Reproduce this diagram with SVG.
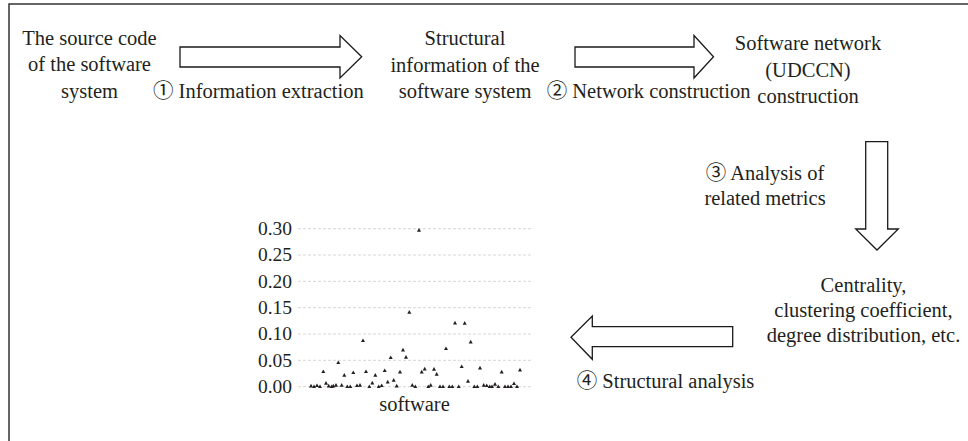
<svg xmlns="http://www.w3.org/2000/svg" xmlns:xlink="http://www.w3.org/1999/xlink" width="968" height="441" viewBox="0 0 968 441">
<style>
  .t { font-family: "Liberation Serif", "DejaVu Serif", "Noto Sans CJK SC", serif; font-size: 20.5px; fill: #231f20; }
  .c { text-anchor: middle; }
  .ax { font-family: "Liberation Serif", "DejaVu Serif", serif; font-size: 19.5px; fill: #231f20; text-anchor: end; }
  .arrow { fill: #fff; stroke: #1a1a1a; stroke-width: 1.3; stroke-linejoin: miter; }
  .grid { stroke: #d6d6d6; stroke-width: 1; stroke-dasharray: 3 2; }
  .frame { stroke: #333; stroke-width: 1.5; fill: none; }
</style>
<defs>
  <path id="tri" d="M0,-2.2 L2,1.4 L-2,1.4 Z" fill="#231f20"/>
</defs>
<rect width="968" height="441" fill="#fff"/>
<path class="frame" d="M9,441 V4 H968"/>

<g id="source-code">
  <text class="t c" x="89.5" y="44.5">The source code</text>
  <text class="t c" x="89.5" y="71">of the software</text>
  <text class="t c" x="89.5" y="97.5">system</text>
</g>

<g id="structural-info">
  <text class="t c" x="465" y="45">Structural</text>
  <text class="t c" x="465" y="71.5">information of the</text>
  <text class="t c" x="465" y="98">software system</text>
</g>

<g id="software-network">
  <text class="t c" x="808" y="50">Software network</text>
  <text class="t c" x="808" y="76.5">(UDCCN)</text>
  <text class="t c" x="808" y="103">construction</text>
</g>

<g id="metrics">
  <text class="t c" x="863.5" y="291.5">Centrality,</text>
  <text class="t c" x="863.5" y="316.5">clustering coefficient,</text>
  <text class="t c" x="863.5" y="341.5">degree distribution, etc.</text>
</g>

<g id="chart">
  <g>
    <line class="grid" x1="298" y1="228.7" x2="531" y2="228.7"/>
    <line class="grid" x1="298" y1="255" x2="531" y2="255"/>
    <line class="grid" x1="298" y1="281.3" x2="531" y2="281.3"/>
    <line class="grid" x1="298" y1="307.7" x2="531" y2="307.7"/>
    <line class="grid" x1="298" y1="334" x2="531" y2="334"/>
    <line class="grid" x1="298" y1="360.3" x2="531" y2="360.3"/>
    <line class="grid" x1="298" y1="386.7" x2="531" y2="386.7"/>
  </g>
  <g>
    <text class="ax" x="292" y="235">0.30</text>
    <text class="ax" x="292" y="261.3">0.25</text>
    <text class="ax" x="292" y="287.6">0.20</text>
    <text class="ax" x="292" y="314">0.15</text>
    <text class="ax" x="292" y="340.3">0.10</text>
    <text class="ax" x="292" y="366.6">0.05</text>
    <text class="ax" x="292" y="393">0.00</text>
  </g>
  <text class="t c" x="414.5" y="411">software</text>
  <g>
    <use xlink:href="#tri" x="311" y="386"/>
    <use xlink:href="#tri" x="314" y="386.7"/>
    <use xlink:href="#tri" x="317" y="385.7"/>
    <use xlink:href="#tri" x="320" y="386.7"/>
    <use xlink:href="#tri" x="323.3" y="371.7"/>
    <use xlink:href="#tri" x="326" y="383.3"/>
    <use xlink:href="#tri" x="328.7" y="386"/>
    <use xlink:href="#tri" x="331.7" y="386.7"/>
    <use xlink:href="#tri" x="333.3" y="386"/>
    <use xlink:href="#tri" x="336" y="385.3"/>
    <use xlink:href="#tri" x="338.3" y="362.7"/>
    <use xlink:href="#tri" x="341.7" y="385.3"/>
    <use xlink:href="#tri" x="344.3" y="375.3"/>
    <use xlink:href="#tri" x="347.3" y="386.7"/>
    <use xlink:href="#tri" x="350.3" y="386.7"/>
    <use xlink:href="#tri" x="353.3" y="372.7"/>
    <use xlink:href="#tri" x="357" y="385.7"/>
    <use xlink:href="#tri" x="360" y="385.3"/>
    <use xlink:href="#tri" x="363" y="340.7"/>
    <use xlink:href="#tri" x="366" y="371.7"/>
    <use xlink:href="#tri" x="369.3" y="386.7"/>
    <use xlink:href="#tri" x="372.3" y="383"/>
    <use xlink:href="#tri" x="375.3" y="375.3"/>
    <use xlink:href="#tri" x="378.7" y="386.7"/>
    <use xlink:href="#tri" x="381.7" y="385.7"/>
    <use xlink:href="#tri" x="384.7" y="370.7"/>
    <use xlink:href="#tri" x="387.7" y="382"/>
    <use xlink:href="#tri" x="390.7" y="357.7"/>
    <use xlink:href="#tri" x="393.7" y="380.3"/>
    <use xlink:href="#tri" x="396.7" y="386"/>
    <use xlink:href="#tri" x="400" y="372"/>
    <use xlink:href="#tri" x="403" y="350"/>
    <use xlink:href="#tri" x="406" y="357.3"/>
    <use xlink:href="#tri" x="409.3" y="312.3"/>
    <use xlink:href="#tri" x="412.3" y="385.3"/>
    <use xlink:href="#tri" x="415.3" y="386.7"/>
    <use xlink:href="#tri" x="419" y="230.3"/>
    <use xlink:href="#tri" x="421.7" y="372"/>
    <use xlink:href="#tri" x="424.7" y="369"/>
    <use xlink:href="#tri" x="428.3" y="386.7"/>
    <use xlink:href="#tri" x="430.7" y="385.3"/>
    <use xlink:href="#tri" x="434" y="369.3"/>
    <use xlink:href="#tri" x="436.7" y="374.3"/>
    <use xlink:href="#tri" x="440" y="386.7"/>
    <use xlink:href="#tri" x="443" y="386.7"/>
    <use xlink:href="#tri" x="446" y="348.7"/>
    <use xlink:href="#tri" x="449.3" y="386.7"/>
    <use xlink:href="#tri" x="452.3" y="386.7"/>
    <use xlink:href="#tri" x="455" y="323"/>
    <use xlink:href="#tri" x="458.7" y="386.7"/>
    <use xlink:href="#tri" x="461.7" y="366.7"/>
    <use xlink:href="#tri" x="464.7" y="323.3"/>
    <use xlink:href="#tri" x="468" y="381.3"/>
    <use xlink:href="#tri" x="470.7" y="342"/>
    <use xlink:href="#tri" x="474.3" y="386.7"/>
    <use xlink:href="#tri" x="477.3" y="386.7"/>
    <use xlink:href="#tri" x="480" y="368"/>
    <use xlink:href="#tri" x="483.7" y="385.3"/>
    <use xlink:href="#tri" x="486.7" y="385.7"/>
    <use xlink:href="#tri" x="489.7" y="386.7"/>
    <use xlink:href="#tri" x="492" y="386.7"/>
    <use xlink:href="#tri" x="495" y="384.3"/>
    <use xlink:href="#tri" x="498.3" y="386.7"/>
    <use xlink:href="#tri" x="501.7" y="372"/>
    <use xlink:href="#tri" x="505" y="386.7"/>
    <use xlink:href="#tri" x="508" y="386.7"/>
    <use xlink:href="#tri" x="511" y="386.7"/>
    <use xlink:href="#tri" x="514" y="383.7"/>
    <use xlink:href="#tri" x="517" y="386.7"/>
    <use xlink:href="#tri" x="520" y="370"/>
  </g>
</g>

<g id="connectors">
  <g id="arrow-1">
    <polygon class="arrow" points="180,47 340,47 340,35.5 361.7,56.8 340,78 340,67 180,67"/>
    <text class="t" x="153" y="97.5">① Information extraction</text>
  </g>
  <g id="arrow-2">
    <polygon class="arrow" points="575,47 694,47 694,35.5 713.5,56.8 694,78 694,67 575,67"/>
    <text class="t" x="546.7" y="98">② Network construction</text>
  </g>
  <g id="arrow-3">
    <polygon class="arrow" points="865.7,141.7 887.7,141.7 887.7,229 898.3,229 877,250 855.7,229 865.7,229"/>
    <text class="t c" x="765" y="180">③ Analysis of</text>
    <text class="t c" x="765" y="205">related metrics</text>
  </g>
  <g id="arrow-4">
    <polygon class="arrow" points="732.7,326.7 592.3,326.7 592.3,316 571,337.3 592.3,359.3 592.3,346.7 732.7,346.7"/>
    <text class="t" x="576.7" y="388">④ Structural analysis</text>
  </g>
</g>
</svg>
